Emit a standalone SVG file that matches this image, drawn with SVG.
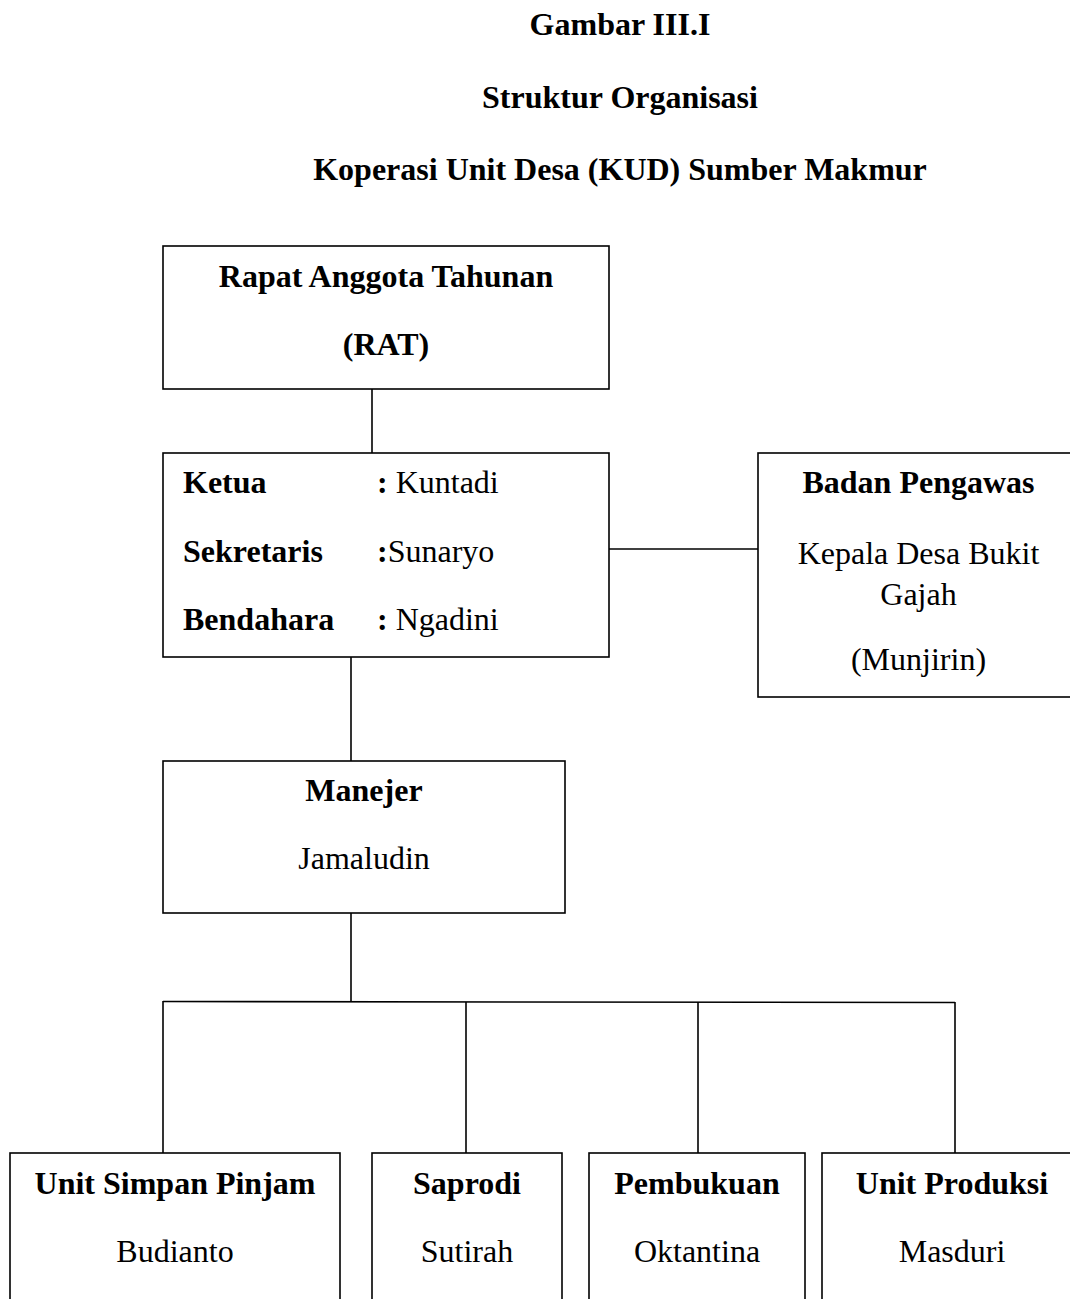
<svg xmlns="http://www.w3.org/2000/svg" width="1070" height="1299" viewBox="0 0 1070 1299">
<style>
text{font-family:"Liberation Serif","Times New Roman",serif;font-size:32px;fill:#000}
.b{font-weight:bold}
.c{text-anchor:middle}
.box{fill:#fff;stroke:#000;stroke-width:1.6}
.ln{stroke:#000;stroke-width:1.6;fill:none}
</style>
<rect width="1070" height="1299" fill="#fff"/>
<g id="title">
<text class="b c" x="620" y="35">Gambar III.I</text>
<text class="b c" x="620" y="108">Struktur Organisasi</text>
<text class="b c" x="620" y="180">Koperasi Unit Desa (KUD) Sumber Makmur</text>
</g>
<g id="connectors">
<line class="ln" x1="372" y1="389" x2="372" y2="453"/>
<line class="ln" x1="609" y1="549" x2="758" y2="549"/>
<line class="ln" x1="351" y1="657" x2="351" y2="761"/>
<line class="ln" x1="351" y1="913" x2="351" y2="1002"/>
<line class="ln" x1="163" y1="1001.5" x2="955" y2="1002.5"/>
<line class="ln" x1="163" y1="1001" x2="163" y2="1153"/>
<line class="ln" x1="466" y1="1002" x2="466" y2="1153"/>
<line class="ln" x1="698" y1="1002" x2="698" y2="1153"/>
<line class="ln" x1="955" y1="1002" x2="955" y2="1153"/>
</g>
<g id="rat">
<rect class="box" x="163" y="246" width="446" height="143"/>
<text class="b c" x="386" y="287">Rapat Anggota Tahunan</text>
<text class="b c" x="386" y="355">(RAT)</text>
</g>
<g id="pengurus">
<rect class="box" x="163" y="453" width="446" height="204"/>
<text class="b" x="183" y="493">Ketua</text>
<text x="377" y="493"><tspan class="b">:</tspan> Kuntadi</text>
<text class="b" x="183" y="562">Sekretaris</text>
<text x="377" y="562"><tspan class="b">:</tspan>Sunaryo</text>
<text class="b" x="183" y="630">Bendahara</text>
<text x="377" y="630"><tspan class="b">:</tspan> Ngadini</text>
</g>
<g id="pengawas">
<rect class="box" x="758" y="453" width="330" height="244"/>
<text class="b c" x="918.5" y="493">Badan Pengawas</text>
<text class="c" x="918.5" y="564">Kepala Desa Bukit</text>
<text class="c" x="918.5" y="605">Gajah</text>
<text class="c" x="918.5" y="670">(Munjirin)</text>
</g>
<g id="manejer">
<rect class="box" x="163" y="761" width="402" height="152"/>
<text class="b c" x="364" y="801">Manejer</text>
<text class="c" x="364" y="869">Jamaludin</text>
</g>
<g id="simpan-pinjam">
<rect class="box" x="10" y="1153" width="330" height="170"/>
<text class="b c" x="175" y="1194">Unit Simpan Pinjam</text>
<text class="c" x="175" y="1262">Budianto</text>
</g>
<g id="saprodi">
<rect class="box" x="372" y="1153" width="190" height="170"/>
<text class="b c" x="467" y="1194">Saprodi</text>
<text class="c" x="467" y="1262">Sutirah</text>
</g>
<g id="pembukuan">
<rect class="box" x="589" y="1153" width="216" height="170"/>
<text class="b c" x="697" y="1194">Pembukuan</text>
<text class="c" x="697" y="1262">Oktantina</text>
</g>
<g id="produksi">
<rect class="box" x="822" y="1153" width="270" height="170"/>
<text class="b c" x="952" y="1194">Unit Produksi</text>
<text class="c" x="952" y="1262">Masduri</text>
</g>
</svg>
